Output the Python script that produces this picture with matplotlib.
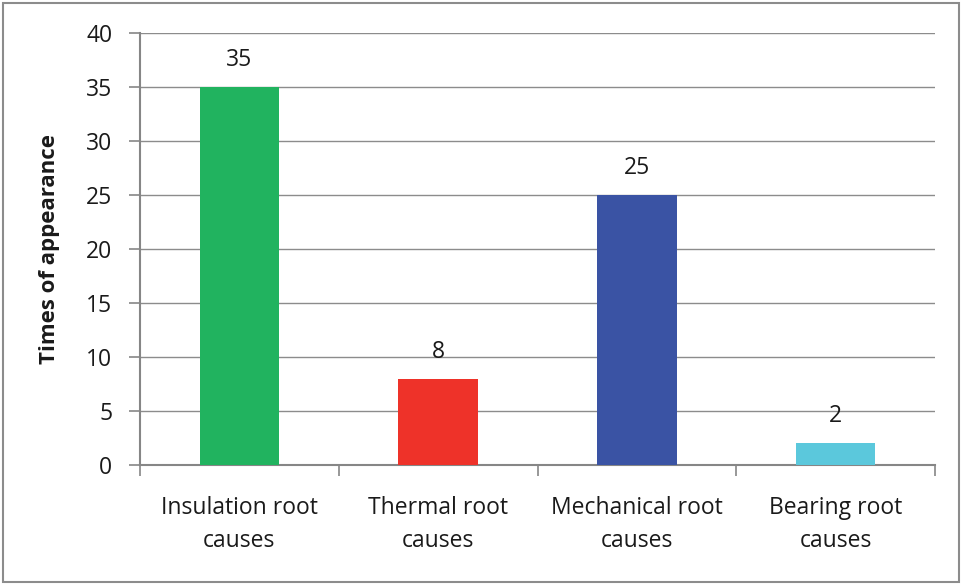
import matplotlib
matplotlib.use("Agg")
import matplotlib.pyplot as plt
from matplotlib.patches import Rectangle

categories = ["Insulation root\ncauses", "Thermal root\ncauses", "Mechanical root\ncauses", "Bearing root\ncauses"]
values = [35, 8, 25, 2]
colors = ["#21B35F", "#EE3229", "#3A53A4", "#5BC8DC"]
yticks = [0, 5, 10, 15, 20, 25, 30, 35, 40]

plt.rcParams['font.family'] = ['Open Sans', 'DejaVu Sans']
fig = plt.figure(figsize=(9.63, 5.84), dpi=100)
ax = fig.add_axes([140/963, 1-465/584, (935-140)/963, (465-33)/584])

x = list(range(len(categories)))
ax.bar(x, values, width=0.4, color=colors, zorder=3)
for xi, v in zip(x, values):
    ax.text(xi, v + 2.5, str(v), ha='center', va='center', fontsize=16.5, color='#1a1a1a')

ax.set_xlim(-0.5, len(categories) - 0.5)
ax.set_ylim(0, 40)
ax.set_yticks(yticks)
ax.set_yticklabels([str(t) for t in yticks], fontsize=16.5, color='#1a1a1a')
ax.set_xticks(x)
ax.set_xticklabels(categories, fontsize=16.5, color='#1a1a1a', linespacing=1.55)
ax.tick_params(axis='x', length=0, pad=22)
ax.tick_params(axis='y', length=8, width=1.2, color='#868686', pad=12)
ax.set_xticks([i - 0.5 for i in range(len(categories) + 1)], minor=True)
ax.tick_params(axis='x', which='minor', length=8, width=1.2, color='#868686')
ax.grid(axis='y', color='#8c8c8c', linewidth=1.0, zorder=0)
for s in ['top', 'right']:
    ax.spines[s].set_visible(False)
for s in ['left', 'bottom']:
    ax.spines[s].set_color('#868686')
    ax.spines[s].set_linewidth(1.5)
ax.set_ylabel("Times of appearance", fontsize=16, fontweight='bold', color='#1a1a1a', labelpad=19)

fig.patches.append(Rectangle((3/963, 2/584), 956/963, 579/584, transform=fig.transFigure,
                             fill=False, edgecolor='#8c8c8c', linewidth=1.5))
fig.savefig("out.png", dpi=100)
